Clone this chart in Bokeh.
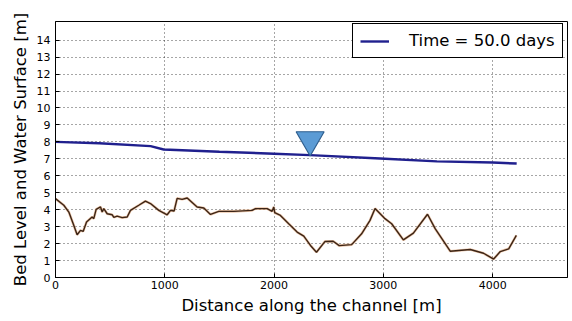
from bokeh.plotting import figure
from bokeh.models import Range1d, FixedTicker, Legend, LegendItem
from bokeh.embed import file_html
from bokeh.resources import INLINE

# ---- data ----
water_x = [0, 400, 870, 990, 1500, 2000, 2330, 2970, 3490, 4000, 4220]
water_y = [8.0, 7.92, 7.75, 7.55, 7.42, 7.3, 7.22, 7.02, 6.85, 6.78, 6.72]

bed_x = [0, 76, 122, 162, 198, 229, 253, 284, 335, 350, 372, 412, 427, 442, 473, 519,
         534, 564, 610, 656, 686, 762, 823, 869, 945, 1022, 1052, 1085, 1113, 1159,
         1205, 1296, 1357, 1418, 1494, 1631, 1799, 1830, 1937, 1982, 1997, 2006, 2058,
         2134, 2211, 2272, 2333, 2388, 2465, 2541, 2596, 2710, 2801, 2878, 2924, 3015,
         3076, 3183, 3275, 3404, 3474, 3612, 3795, 3917, 4009, 4070, 4147, 4217]
bed_y = [4.65, 4.26, 3.86, 3.17, 2.52, 2.78, 2.72, 3.27, 3.57, 3.47, 4.02, 4.16, 3.86,
         4.06, 3.76, 3.70, 3.55, 3.62, 3.53, 3.57, 3.96, 4.26, 4.51, 4.36, 3.96, 3.70,
         3.96, 3.92, 4.67, 4.61, 4.69, 4.16, 4.10, 3.72, 3.90, 3.90, 3.96, 4.06, 4.06,
         3.90, 4.16, 3.82, 3.66, 3.17, 2.68, 2.44, 1.89, 1.49, 2.12, 2.14, 1.88, 1.94,
         2.58, 3.37, 4.07, 3.47, 3.17, 2.22, 2.62, 3.73, 2.88, 1.55, 1.65, 1.43, 1.09,
         1.53, 1.69, 2.48]

marker_x = [2330]
marker_y = [8.12]

x_ticks = [0, 1000, 2000, 3000, 4000]
y_ticks = list(range(0, 15))

FONT = "DejaVu Sans"

p = figure(width=572, height=321, output_backend="svg", toolbar_location=None,
           x_range=Range1d(0, 4685), y_range=Range1d(0, 15.1),
           min_border_left=55, min_border_right=5, min_border_top=21, min_border_bottom=44)
p.background_fill_color = "white"
p.border_fill_color = "white"
p.outline_line_color = "black"
p.outline_line_width = 1

for ax in (p.xaxis[0], p.yaxis[0]):
    ax.major_tick_in = 4
    ax.major_tick_out = 0
    ax.minor_tick_line_color = None
    ax.axis_line_color = "black"
    ax.major_label_text_font = FONT
    ax.major_label_text_font_size = "11px"
    ax.major_label_text_color = "black"
    ax.axis_label_text_font = FONT
    ax.axis_label_text_font_size = "16.5px"
    ax.axis_label_text_font_style = "normal"
    ax.axis_label_text_color = "black"

p.xaxis[0].ticker = FixedTicker(ticks=x_ticks)
p.yaxis[0].ticker = FixedTicker(ticks=y_ticks)
p.xaxis[0].axis_label = "Distance along the channel [m]"
p.yaxis[0].axis_label = "Bed Level and Water Surface [m]"
p.xaxis[0].major_label_standoff = 3
p.yaxis[0].major_label_standoff = 5
p.xaxis[0].axis_label_standoff = 4
p.yaxis[0].axis_label_standoff = 4

p.xgrid.ticker = FixedTicker(ticks=x_ticks)
p.ygrid.ticker = FixedTicker(ticks=y_ticks)
for g in (p.xgrid[0], p.ygrid[0]):
    g.grid_line_color = "black"
    g.grid_line_alpha = 0.7
    g.grid_line_dash = "1 3"
    g.grid_line_width = 1

# bed level: orange halo + dark brown line
p.line(bed_x, bed_y, line_color="#e0a070", line_width=2.6, line_alpha=0.6)
p.line(bed_x, bed_y, line_color="#3b2416", line_width=1.4)

wl = p.line(water_x, water_y, line_color="#20208e", line_width=2.4)

p.scatter(marker_x, marker_y, marker="inverted_triangle", size=28,
          fill_color="#5b9bd5", line_color="#2f5f8f", line_width=1.2)

legend = Legend(items=[LegendItem(label="Time = 50.0 days", renderers=[wl])],
                location=(297, 219))
legend.label_text_font = FONT
legend.label_text_font_size = "16.5px"
legend.label_text_color = "black"
legend.border_line_color = "black"
legend.border_line_width = 1
legend.border_line_alpha = 1
legend.background_fill_alpha = 1
legend.glyph_width = 29
legend.glyph_height = 14
legend.label_height = 14
legend.label_standoff = 20
legend.padding = 7
legend.margin = 0
legend.spacing = 0
p.add_layout(legend)

open("out.html", "w").write(file_html(p, INLINE))
